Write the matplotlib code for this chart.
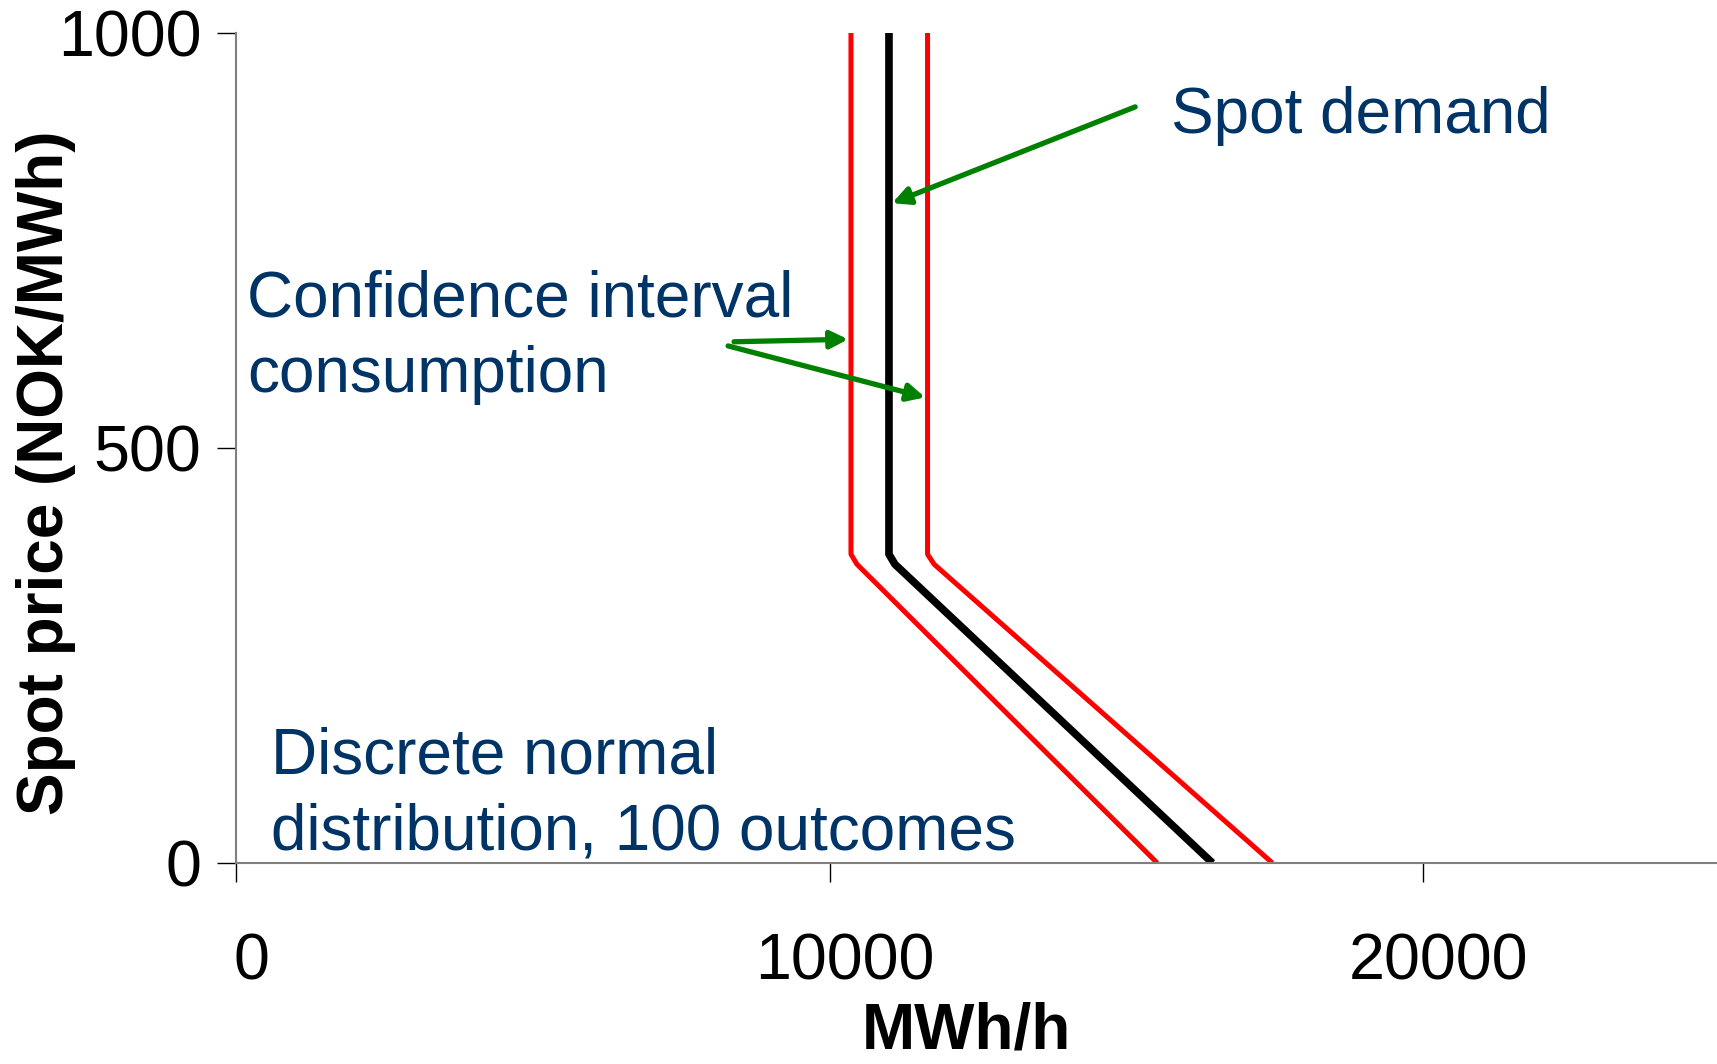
import matplotlib
matplotlib.use('Agg')
import matplotlib.pyplot as plt
from matplotlib.transforms import ScaledTranslation

plt.rcParams['font.family'] = ['Liberation Sans', 'DejaVu Sans']

# ---- data ----
price = [1000, 372, 360, 0]
demand_mean = [11000, 11000, 11100, 16450]
demand_low = [10360, 10360, 10460, 15520]
demand_high = [11650, 11650, 11760, 17460]
x_ticks = [0, 10000, 20000]
y_ticks = [0, 500, 1000]
x_label = "MWh/h"
y_label = "Spot price (NOK/MWh)"

W, H = 1717, 1064
fig = plt.figure(figsize=(W / 100, H / 100), dpi=100)
ax = fig.add_axes([236 / W, 1 - 863 / H, 1484 / W, 830 / H])

red = '#ff0000'
ax.plot(demand_low, price, color=red, lw=3.6, solid_joinstyle='round', solid_capstyle='butt')
ax.plot(demand_high, price, color=red, lw=3.6, solid_joinstyle='round', solid_capstyle='butt')
ax.plot(demand_mean, price, color='black', lw=5.5, solid_joinstyle='round', solid_capstyle='butt')

ax.set_xlim(0, 25000)
ax.set_ylim(0, 1000)
ax.set_xticks(x_ticks)
ax.set_yticks(y_ticks)
ax.set_xticklabels([str(v) for v in x_ticks])
ax.set_yticklabels([str(v) for v in y_ticks])

for s in ['top', 'right']:
    ax.spines[s].set_visible(False)
for s in ['left', 'bottom']:
    ax.spines[s].set_color('#808080')
    ax.spines[s].set_linewidth(1.5)

ax.tick_params(axis='x', direction='out', length=14, width=1, color='black',
               labelsize=46.5, pad=36)
ax.tick_params(axis='y', direction='out', length=14, width=1, color='black',
               labelsize=46.5, pad=11)
offset = ScaledTranslation(15 / 100, 0, fig.dpi_scale_trans)
for lab in ax.get_xticklabels():
    lab.set_transform(lab.get_transform() + offset)

text_color = '#003366'
fs = 46

fig.text(1171 / W, 1 - 133 / H, "Spot demand", color=text_color, fontsize=fs,
         ha='left', va='baseline')
fig.text(247 / W, 1 - 317 / H, "Confidence interval", color=text_color, fontsize=fs,
         ha='left', va='baseline')
fig.text(247 / W, 1 - 392 / H, "consumption", color=text_color, fontsize=fs,
         ha='left', va='baseline')
fig.text(271 / W, 1 - 774 / H, "Discrete normal", color=text_color, fontsize=fs,
         ha='left', va='baseline')
fig.text(271 / W, 1 - 850 / H, "distribution, 100 outcomes", color=text_color, fontsize=fs,
         ha='left', va='baseline')

fig.text(966 / W, 1 - 1062 / H, x_label, fontsize=fs, fontweight='bold',
         ha='center', va='bottom')
fig.text(63 / W, 1 - 473 / H, y_label, fontsize=fs, fontweight='bold',
         ha='center', va='baseline', rotation=90, rotation_mode='anchor')

green = '#008000'
aprops = dict(arrowstyle='-|>', color=green, lw=3.8, mutation_scale=26,
              shrinkA=0, shrinkB=0)
ax.annotate('', xy=(11053, 795), xytext=(15148, 911), arrowprops=aprops)
ax.annotate('', xy=(10312, 631), xytext=(8390, 628), arrowprops=aprops)
ax.annotate('', xy=(11609, 561), xytext=(8290, 623), arrowprops=aprops)

fig.savefig('out.png', dpi=100)
